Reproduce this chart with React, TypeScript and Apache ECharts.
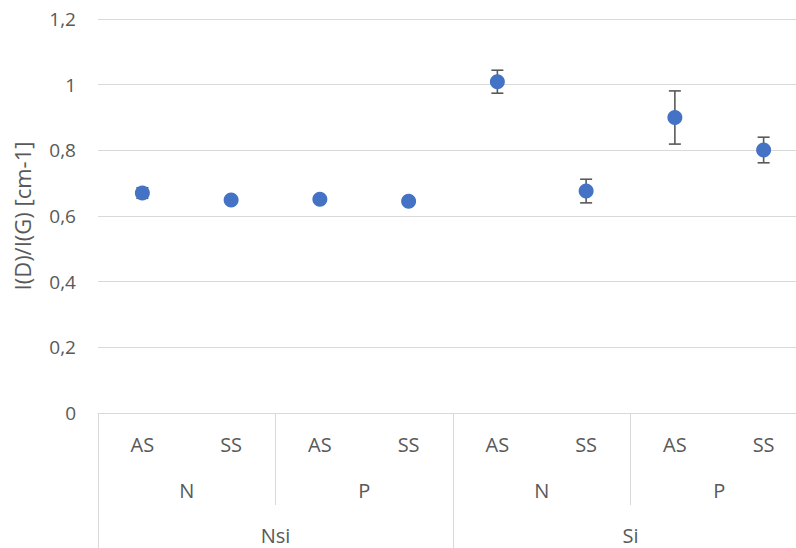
import React, { useEffect, useRef } from 'react';
import * as echarts from 'echarts';

// Level 1 (inner) categories, level 2 and level 3 groups
const samples = ['AS', 'SS', 'AS', 'SS', 'AS', 'SS', 'AS', 'SS'];
const dopants = ['N', 'P', 'N', 'P'];
const substrates = ['Nsi', 'Si'];
// I(D)/I(G) ratio and its error (±)
const ratioValues = [0.67, 0.649, 0.651, 0.645, 1.009, 0.676, 0.9, 0.801];
const errorValues = [0.016, 0, 0, 0, 0.035, 0.036, 0.081, 0.039];
const yMin = 0;
const yMax = 1.2;
const yInterval = 0.2;

const FONT = 'Open Sans';
const TEXT = '#595959';
const GRID = '#d9d9d9';

export default function App() {
  const ref = useRef<HTMLDivElement>(null);
  useEffect(() => {
    if (!ref.current) return;
    const chart = echarts.init(ref.current, null, { renderer: 'svg' });
    const errData = ratioValues
      .map((v, i) => [i, v - errorValues[i], v + errorValues[i], errorValues[i]])
      .filter((d) => d[3] > 0);
    const labelBase = { color: TEXT, fontFamily: FONT, fontSize: 20 };
    chart.setOption({
      animation: false,
      grid: { left: 98, top: 19, bottom: 135, right: 0, containLabel: false },
      xAxis: [
        {
          type: 'category',
          position: 'bottom',
          data: samples,
          axisLine: { show: true, lineStyle: { color: GRID, width: 1 } },
          axisTick: { show: false },
          axisLabel: { ...labelBase, margin: 21, interval: 0 },
          splitLine: { show: false },
        },
        {
          type: 'category',
          position: 'bottom',
          data: dopants,
          axisLine: { show: false },
          axisTick: { show: true, length: 92, interval: 0, lineStyle: { color: GRID, width: 1 } },
          axisLabel: { ...labelBase, margin: 67, interval: 0 },
          splitLine: { show: false },
        },
        {
          type: 'category',
          position: 'bottom',
          data: substrates,
          axisLine: { show: false },
          axisTick: { show: true, length: 135, interval: 0, lineStyle: { color: GRID, width: 1 } },
          axisLabel: { ...labelBase, margin: 112, interval: 0 },
          splitLine: { show: false },
        },
      ],
      yAxis: {
        type: 'value',
        min: yMin,
        max: yMax,
        interval: yInterval,
        name: 'I(D)/I(G) [cm-1]',
        nameLocation: 'middle',
        nameGap: 65,
        nameRotate: 90,
        nameTextStyle: { ...labelBase, fontSize: 22 },
        axisLine: { show: false },
        axisTick: { show: false },
        axisLabel: {
          ...labelBase,
          fontSize: 19,
          margin: 22,
          formatter: (v: number) => String(Math.round(v * 10) / 10).replace('.', ','),
        },
        splitLine: { show: true, lineStyle: { color: GRID, width: 1 } },
      },
      series: [
        {
          type: 'custom',
          xAxisIndex: 0,
          z: 1,
          data: errData,
          renderItem: (params: any, api: any) => {
            const x = api.value(0);
            const lo = api.coord([x, api.value(1)]);
            const hi = api.coord([x, api.value(2)]);
            const cap = 6;
            const style = { stroke: '#595959', lineWidth: 1.6 };
            return {
              type: 'group',
              children: [
                { type: 'line', shape: { x1: lo[0], y1: lo[1], x2: hi[0], y2: hi[1] }, style },
                { type: 'line', shape: { x1: lo[0] - cap, y1: lo[1], x2: lo[0] + cap, y2: lo[1] }, style },
                { type: 'line', shape: { x1: hi[0] - cap, y1: hi[1], x2: hi[0] + cap, y2: hi[1] }, style },
              ],
            };
          },
        },
        {
          type: 'scatter',
          xAxisIndex: 0,
          z: 2,
          symbol: 'circle',
          symbolSize: 15,
          itemStyle: { color: '#4472C4', opacity: 1 },
          data: ratioValues,
        },
      ],
    });
    return () => chart.dispose();
  }, []);
  return (
    <div
      style={{ position: 'fixed', left: 0, top: 0, width: 796, height: 548, overflow: 'hidden', background: '#fff' }}
    >
      <div ref={ref} style={{ width: 808, height: 548 }} />
    </div>
  );
}
